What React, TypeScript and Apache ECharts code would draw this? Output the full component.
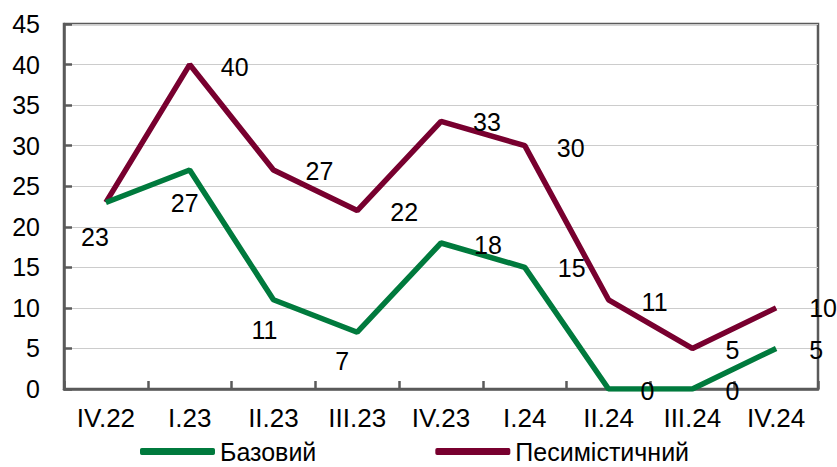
import React, { useEffect, useRef } from "react";
import * as echarts from "echarts";

const categories = ["IV.22", "I.23", "II.23", "III.23", "IV.23", "I.24", "II.24", "III.24", "IV.24"];
const baseValues = [23, 27, 11, 7, 18, 15, 0, 0, 5];
const pessValues = [23, 40, 27, 22, 33, 30, 11, 5, 10];
const seriesNames = ["Базовий", "Песимістичний"];

// label placement (pixel offsets from the point)
const baseLabelOffsets: [number, number][] = [
  [-11, 35], [-5, 33], [-9, 30], [-15, 29], [47, 2], [47, 1], [39, 2], [40, 2], [40, 2],
];
const pessLabelOffsets: [number, number][] = [
  [0, 0], [45, 2], [46, 1], [47, 1], [46, 1], [46, 2], [46, 2], [40, 2], [47, 0],
];

const FONT = "'Liberation Sans', Arial, sans-serif";
const GREEN = "#007A3D";
const MAROON = "#78002F";

export default function App() {
  const ref = useRef<HTMLDivElement>(null);
  useEffect(() => {
    if (!ref.current) return;
    const chart = echarts.init(ref.current, null, { renderer: "svg" });
    const mk = (vals: number[], offs: [number, number][], hideFirst: boolean) =>
      vals.map((v, i) => ({
        value: v,
        label: {
          show: !(hideFirst && i === 0),
          position: "inside",
          offset: offs[i],
        },
      }));
    chart.setOption({
      animation: false,
      textStyle: { fontFamily: FONT },
      grid: {
        left: 64,
        top: 24,
        right: 19,
        bottom: 78,
        show: true,
        borderColor: "#5a5a5a",
        borderWidth: 2.5,
        containLabel: false,
      },
      legend: {
        left: 135,
        top: 439,
        padding: [0, 5, 0, 5],
        itemGap: 119,
        itemWidth: 75,
        itemHeight: 7,
        icon: "roundRect",
        textStyle: { fontSize: 25, lineHeight: 24, color: "#000", fontFamily: FONT },
        data: seriesNames,
      },
      xAxis: {
        type: "category",
        data: categories,
        boundaryGap: true,
        axisLine: { lineStyle: { color: "#5a5a5a", width: 2.5 } },
        axisTick: { show: true, inside: true, length: 8, lineStyle: { color: "#5a5a5a", width: 2.5 } },
        axisLabel: { color: "#000", fontSize: 26, margin: 16, fontFamily: FONT },
        splitLine: { show: false },
      },
      yAxis: {
        type: "value",
        min: 0,
        max: 45,
        interval: 5,
        axisLine: { show: true, lineStyle: { color: "#5a5a5a", width: 2.5 } },
        axisTick: { show: true, inside: true, length: 8, lineStyle: { color: "#5a5a5a", width: 2.5 } },
        axisLabel: { color: "#000", fontSize: 25, margin: 24, fontFamily: FONT },
        splitLine: { show: true, lineStyle: { color: "#cccccc", width: 1 } },
      },
      series: [
        {
          name: seriesNames[0],
          type: "line",
          data: mk(baseValues, baseLabelOffsets, false),
          symbol: "circle",
          symbolSize: 0.1,
          lineStyle: { color: GREEN, width: 5.5 },
          itemStyle: { color: GREEN },
          label: { show: true, color: "#000", fontSize: 25, fontFamily: FONT },
          z: 3,
        },
        {
          name: seriesNames[1],
          type: "line",
          data: mk(pessValues, pessLabelOffsets, true),
          symbol: "circle",
          symbolSize: 0.1,
          lineStyle: { color: MAROON, width: 5.5 },
          itemStyle: { color: MAROON },
          label: { show: true, color: "#000", fontSize: 25, fontFamily: FONT },
          z: 2,
        },
      ],
    });
    return () => chart.dispose();
  }, []);
  return (
    <div
      ref={ref}
      style={{ position: "fixed", left: 0, top: 0, width: 837, height: 467, background: "#fff" }}
    />
  );
}
